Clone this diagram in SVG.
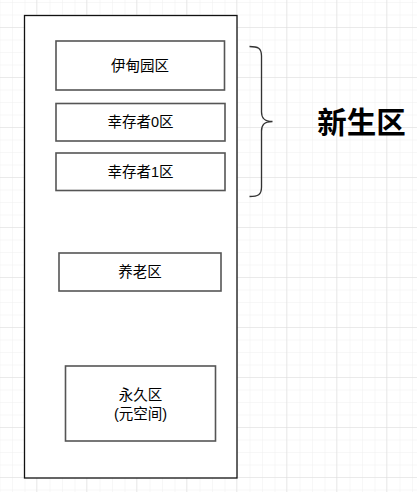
<svg xmlns="http://www.w3.org/2000/svg" width="417" height="492" viewBox="0 0 417 492">
<defs>
<pattern id="minor" x="0.5" y="3" width="12.5" height="12.5" patternUnits="userSpaceOnUse">
<path d="M12.5 0V12.5M0 12.5H12.5" fill="none" stroke="#efefef" stroke-width="1"/>
</pattern>
<pattern id="major" x="-13" y="-22" width="50" height="50" patternUnits="userSpaceOnUse">
<path d="M50 0V50M0 50H50" fill="none" stroke="#dcdcdc" stroke-width="1"/>
</pattern>
</defs>
<style>
.box{fill:#fff;stroke:#555;stroke-width:1.6}
.lbl{font-family:"Liberation Sans","Noto Sans CJK SC",sans-serif;font-size:14.5px;fill:#000;text-anchor:middle;dominant-baseline:central}
</style>
<rect width="417" height="492" fill="#fff"/>
<rect width="417" height="492" fill="url(#minor)"/>
<rect width="417" height="492" fill="url(#major)"/>
<g id="heap">
<rect x="24.5" y="15.5" width="212.5" height="462.5" fill="#fff" stroke="#111" stroke-width="1.3"/>
</g>
<g id="eden"><rect class="box" x="56" y="41" width="168.5" height="49"/><text class="lbl" x="140" y="65.5">伊甸园区</text></g>
<g id="s0"><rect class="box" x="56" y="103.5" width="169" height="37.5"/><text class="lbl" x="140.5" y="122">幸存者0区</text></g>
<g id="s1"><rect class="box" x="56" y="153" width="169" height="37.5"/><text class="lbl" x="140.5" y="172">幸存者1区</text></g>
<g id="old"><rect class="box" x="59" y="253" width="162" height="38"/><text class="lbl" x="140" y="272">养老区</text></g>
<g id="perm"><rect class="box" x="65.5" y="366" width="150" height="75"/><text class="lbl" x="140.5" y="395">永久区</text><text class="lbl" x="140.5" y="414">(元空间)</text></g>
<g id="connectors">
<path d="M249.5 46.5C258 46.5 261.5 48 261.5 56V112C261.5 118 264 121.5 272.5 121.5C264 121.5 261.5 125 261.5 131V187C261.5 195 258 196.5 249.5 196.5" fill="none" stroke="#333" stroke-width="1.3"/>
</g>
<g id="young"><text x="361.5" y="122" font-family="'Liberation Sans','Noto Sans CJK SC',sans-serif" font-size="29.5" font-weight="bold" text-anchor="middle" dominant-baseline="central">新生区</text></g>
</svg>
